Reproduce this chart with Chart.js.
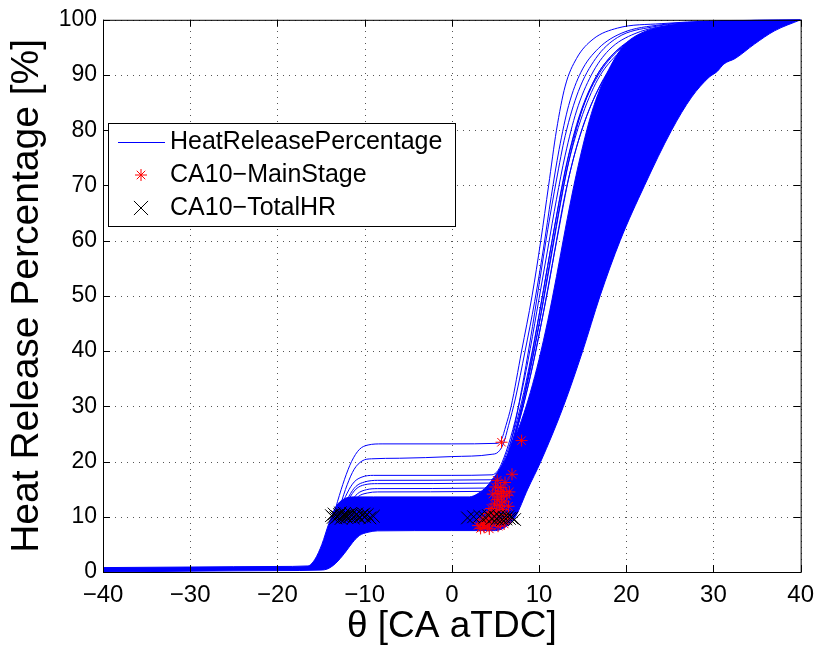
<!DOCTYPE html>
<html>
<head>
<meta charset="utf-8">
<script src="https://cdn.jsdelivr.net/npm/chart.js@4.4.1/dist/chart.umd.min.js"></script>
<style>
  html, body { margin: 0; background: #fff; }
</style>
</head>
<body>
<canvas id="hrChart" width="823" height="645"></canvas>
<script>
// heat release curves, [theta, percent]
const curveS1 = [[-40,0.4],[-28,0.6],[-20,0.7],[-16.3,0.9],[-15.5,1.8],[-14.7,4.2],[-13.9,8.3],[-13.1,12.8],[-12.3,16.8],[-11.5,20],[-10.6,22.2],[-9.6,23],[-8,23.2],[0,23.2],[5.2,23.3],[5.7,24],[6.2,26.5],[6.8,30],[8,40],[9.2,50],[10.2,60],[11.1,70],[12,80],[13,88],[14.3,93],[16.2,96.5],[19,98.5],[24,99.3],[30,99.8],[40,100]];
const curveS2 = [[-40,0.4],[-28,0.6],[-20,0.7],[-16,0.9],[-15.2,1.8],[-14.4,4],[-13.6,7.8],[-12.8,12],[-12,15.8],[-11.2,18.6],[-10.3,20.1],[-9.2,20.5],[-6,20.6],[0,20.9],[4.5,21.3],[5.3,21.7],[5.9,23.2],[6.5,26.5],[7.3,31.5],[8.4,40],[9.5,49],[10.5,58.5],[11.4,68],[12.3,76.5],[13.4,84.5],[14.8,90.5],[16.8,94.8],[19.5,97.6],[24,99.1],[30,99.7],[40,100]];
const curveS3 = [[-40,0.4],[-28,0.6],[-20,0.7],[-16,0.9],[-15.2,1.7],[-14.4,4],[-13.6,7.6],[-12.8,11.3],[-12,14.3],[-11.2,16.3],[-10.3,17.2],[-9,17.5],[0,17.5],[4.6,17.6],[5.3,18.4],[6,20.8],[7,25.8],[8,32.5],[9,40.5],[10,49.5],[11,58.5],[12,67.5],[13,75.5],[14.3,83.5],[16,90],[18,94.5],[21,97.5],[26,99.2],[32,99.8],[40,100]];
const curveS4 = [[-40,0.4],[-28,0.6],[-20,0.7],[-15.8,0.9],[-15,1.7],[-14.2,3.9],[-13.4,7.3],[-12.6,10.8],[-11.8,13.7],[-11,15.5],[-10,16.3],[-8.5,16.6],[4.4,16.7],[5.2,17.7],[6,20.3],[7,24.8],[8,30.8],[9,38.2],[10,46.5],[11,55.5],[12,64.5],[13,72.8],[14.5,82],[16.3,89],[18.5,93.8],[22,97.2],[27,99],[33,99.8],[40,100]];
const curveS5 = [[-40,0.4],[-28,0.6],[-20,0.7],[-15.8,0.9],[-15,1.6],[-14.2,3.7],[-13.4,7],[-12.6,10.4],[-11.8,13.2],[-11,15],[-10,15.8],[-8.5,16],[4.2,16.1],[5,16.8],[6,19.5],[7,24],[8,30],[9,37],[10,45],[11,54],[12,63],[13,71.5],[14.5,80.5],[16.5,88.5],[18.5,93],[22,97],[27,99],[33,99.8],[40,100]];
const curveS6 = [[-40,0.4],[-28,0.6],[-20,0.7],[-15.6,0.9],[-14.8,1.6],[-14,3.6],[-13.2,6.8],[-12.4,10],[-11.6,12.6],[-10.8,14.2],[-9.8,14.9],[-8.5,15.1],[4,15.2],[4.8,15.8],[5.8,18.4],[7,23.5],[8,29],[9,35.5],[10,43],[11,51],[12,60],[13,68.5],[14.5,78],[16.5,86.5],[19,93],[23,97.5],[28,99.3],[40,100]];
const curveS7 = [[-40,0.4],[-28,0.6],[-20,0.7],[-15.5,0.9],[-14.7,1.6],[-13.9,3.5],[-13.1,6.5],[-12.3,9.6],[-11.5,12.2],[-10.7,13.7],[-9.7,14.3],[-8.5,14.5],[3.6,14.6],[4.5,15.3],[5.5,17.5],[6.5,21],[7.5,26],[8.5,32],[9.5,39],[10.5,47],[11.5,55.5],[12.5,64],[13.5,72],[15,80.5],[17,88],[19.5,93.5],[23,97.3],[28,99.2],[40,100]];
const curveC1 = [[-40,0.4],[-28,0.6],[-20,0.7],[-15.8,0.9],[-15,1.8],[-14.2,4.3],[-13.4,7.6],[-12.6,10.3],[-11.8,11.9],[-10.8,12.4],[-9,12.5],[3,12.6],[4,13.5],[5,15.5],[6,19],[7,25],[8,33],[9,42],[10,52],[11,62],[12,71],[13,79],[14.5,87],[16.5,93],[19,96.8],[23,98.7],[30,99.7],[40,100]];
const curveC2 = [[-40,0.4],[-28,0.6],[-20,0.7],[-15.9,0.9],[-15.1,1.8],[-14.3,4.4],[-13.5,8],[-12.7,11],[-11.9,12.5],[-10.9,13],[-9,13],[2.5,13.1],[3.5,13.8],[4.5,15.3],[5.5,17.8],[6.5,21.5],[7.5,26.5],[8.5,33],[9.5,40.5],[10.5,49],[11.5,58],[12.5,67],[13.5,75],[14.8,83],[16.5,89.5],[18.5,93.8],[21,96.8],[25,98.8],[31,99.7],[40,100]];
const curveC3 = [[-40,0.4],[-28,0.6],[-20,0.7],[-15.6,0.9],[-14.8,1.7],[-14,4],[-13.2,7.2],[-12.4,9.8],[-11.6,11],[-10.6,11.4],[-9,11.5],[3.5,11.6],[4.5,12.8],[5.5,15.5],[6.5,20],[7.5,26],[8.5,33.5],[9.5,42],[10.5,51],[11.5,60],[12.5,68.5],[13.5,76],[15,84],[17,90.5],[19.5,95],[23,98],[30,99.6],[40,100]];
// edges of the dense bundle
const coreLeft = [[-40,0.8],[-30,0.9],[-20,1],[-16.5,1.1],[-15.7,2.3],[-14.9,5],[-14.1,8.8],[-13.3,11.8],[-12.4,13.2],[-11.2,13.6],[-9,13.6],[2,13.6],[3,14.2],[4,15.5],[5,17.5],[6,20],[7,23.5],[8,27.5],[9,32.5],[10,38.5],[11,45.5],[12,53.5],[13,62],[14,70],[15,77],[16,83],[17,87.5],[18,91],[19,93.8],[20,95.8],[22,97.8],[25,99],[30,99.7],[40,100]];
const coreRight = [[-40,0],[-30,0.15],[-20,0.25],[-15,0.35],[-14.2,0.6],[-13.3,1.6],[-12.3,3.4],[-11.4,5.3],[-10.6,6.6],[-9.6,7.2],[-8.5,7.45],[0,7.5],[5,7.5],[6,8],[6.8,9],[7.3,10],[8.7,15],[10.2,20],[12.8,30],[15,40],[17,50],[19.3,60],[22.1,70],[25.2,80],[27.5,86],[29.5,89.6],[30.4,90.6],[31.2,92],[32.5,93],[34.7,95.6],[37,98],[40,100]];

// CA10 markers
const caMainX = [3.0, 3.3, 3.5, 3.7, 3.9, 4.1, 4.3, 4.4, 4.6, 4.8, 4.5, 4.9, 5.0, 5.1, 5.2, 5.3, 5.4, 5.5, 5.6, 5.7,
                 5.8, 5.9, 6.0, 6.1, 6.2, 6.3, 6.4, 6.5, 5.2, 4.7, 5.6, 6.0, 4.2, 3.6, 5.0, 6.9, 5.7, 8.0, 6.6, 5.3];
const caMainY = [8.4, 7.9, 8.8, 8.1, 9.3, 8.5, 7.8, 9.8, 8.9, 10.5, 11.5, 12.3, 9.4, 11.0, 13.1, 14.2, 10.2, 12.0, 15.3, 13.6,
                 11.3, 14.6, 12.7, 16.2, 10.4, 13.9, 9.6, 11.9, 16.6, 14.1, 9.0, 8.7, 10.6, 9.6, 15.4, 17.7, 23.5, 23.8, 14.5, 8.3];
const caTotalX = [-13.8, -13.5, -13.3, -13.1, -12.9, -12.7, -12.5, -12.3, -12.1, -11.9, -11.7, -11.5, -11.3, -11.1, -10.9, -10.6, -10.3, -10.0, -9.7, -9.4, -9.0,
                  -13.6, -12.8, -12.2, -11.6, -10.8, -10.1,
                  1.8, 2.5, 3.2, 3.8, 4.2, 4.6, 4.9, 5.2, 5.4, 5.6, 5.8, 6.0, 6.2, 6.4, 6.6, 6.9, 7.2];
const caTotalY = [10.2, 10.5, 9.8, 10.0, 10.4, 9.7, 10.1, 10.6, 9.9, 10.3, 10.0, 10.4, 9.8, 10.2, 10.5, 9.9, 10.3, 10.0, 10.4, 9.8, 10.1,
                  9.9, 10.7, 10.2, 10.6, 10.1, 10.5,
                  9.8, 10.0, 10.1, 9.9, 10.2, 9.7, 10.0, 9.6, 10.1, 9.8, 9.5, 9.9, 9.6, 10.0, 9.7, 9.8, 9.5];

const xTicks = [-40, -30, -20, -10, 0, 10, 20, 30, 40];
const yTicks = [0, 10, 20, 30, 40, 50, 60, 70, 80, 90, 100];

const FONT = "'Liberation Sans', Arial, Helvetica, sans-serif";
const BLUE = '#0000ff';

const toPts = arr => arr.map(p => ({ x: p[0], y: p[1] }));
const zipPts = (xs, ys) => xs.map((x, i) => ({ x: x, y: ys[i] }));

const lineDs = (pts, label) => ({
  label: label,
  data: toPts(pts),
  borderColor: BLUE,
  borderWidth: 1,
  pointRadius: 0,
  fill: false,
  order: 2
});

const datasets = [
  { label: 'CA10\u2212TotalHR', data: zipPts(caTotalX, caTotalY), showLine: false,
    pointStyle: 'crossRot', pointRadius: 9, pointBorderColor: '#000', pointBorderWidth: 1, order: 0 },
  { label: 'CA10\u2212MainStage', data: zipPts(caMainX, caMainY), showLine: false,
    pointStyle: 'star', pointRadius: 6, pointBorderColor: '#ff0000', pointBorderWidth: 1, order: 1 },
  lineDs(coreLeft, 'HeatReleasePercentage'),
  Object.assign(lineDs(coreRight), { fill: '-1', backgroundColor: BLUE }),
  lineDs(curveS1), lineDs(curveS2), lineDs(curveS3), lineDs(curveS4),
  lineDs(curveS5), lineDs(curveS6), lineDs(curveS7),
  lineDs(curveC1), lineDs(curveC2), lineDs(curveC3)
];

// dotted grid, boxed axes with inward ticks, legend inside the plot
const matlabAxes = {
  id: 'matlabAxes',
  beforeDatasetsDraw(chart) {
    const { ctx, chartArea: a, scales: { x, y } } = chart;
    ctx.save();
    ctx.strokeStyle = '#555';
    ctx.lineWidth = 1;
    ctx.setLineDash([1, 5]);
    xTicks.forEach(v => {
      const px = Math.round(x.getPixelForValue(v)) + 0.5;
      ctx.beginPath(); ctx.moveTo(px, a.bottom); ctx.lineTo(px, a.top); ctx.stroke();
    });
    yTicks.forEach(v => {
      const py = Math.round(y.getPixelForValue(v)) + 0.5;
      ctx.beginPath(); ctx.moveTo(a.left, py); ctx.lineTo(a.right, py); ctx.stroke();
    });
    ctx.restore();
  },
  afterDatasetsDraw(chart) {
    const { ctx, chartArea: a, scales: { x, y } } = chart;
    const tl = 7;
    ctx.save();
    ctx.strokeStyle = '#000';
    ctx.lineWidth = 1;
    ctx.strokeRect(a.left + 0.5, a.top + 0.5, a.right - a.left, a.bottom - a.top);
    ctx.beginPath();
    xTicks.forEach(v => {
      const px = Math.round(x.getPixelForValue(v)) + 0.5;
      ctx.moveTo(px, a.bottom); ctx.lineTo(px, a.bottom - tl);
      ctx.moveTo(px, a.top); ctx.lineTo(px, a.top + tl);
    });
    yTicks.forEach(v => {
      const py = Math.round(y.getPixelForValue(v)) + 0.5;
      ctx.moveTo(a.left, py); ctx.lineTo(a.left + tl, py);
      ctx.moveTo(a.right, py); ctx.lineTo(a.right - tl, py);
    });
    ctx.stroke();
    ctx.restore();
  },
  afterDraw(chart) {
    const { ctx } = chart;
    const ds = chart.data.datasets;
    const box = { l: 108, t: 123, w: 347, h: 103 };
    ctx.save();
    ctx.fillStyle = '#fff';
    ctx.fillRect(box.l, box.t, box.w, box.h);
    ctx.strokeStyle = '#000';
    ctx.lineWidth = 1;
    ctx.strokeRect(box.l + 0.5, box.t + 0.5, box.w, box.h);

    ctx.font = '25px ' + FONT;
    ctx.fillStyle = '#000';
    ctx.textBaseline = 'middle';

    // line entry
    ctx.strokeStyle = BLUE;
    ctx.beginPath(); ctx.moveTo(118, 142.5); ctx.lineTo(165, 142.5); ctx.stroke();
    ctx.fillText(ds[2].label, 170, 142);

    ctx.strokeStyle = '#ff0000';
    Chart.helpers.drawPoint(ctx, { pointStyle: 'star', radius: 6, borderWidth: 1 }, 141, 175);
    ctx.fillText(ds[1].label, 170, 175);

    ctx.strokeStyle = '#000';
    Chart.helpers.drawPoint(ctx, { pointStyle: 'crossRot', radius: 10, borderWidth: 1 }, 141, 208);
    ctx.fillText(ds[0].label, 170, 208);
    ctx.restore();
  }
};

new Chart(document.getElementById('hrChart'), {
  type: 'line',
  data: { datasets: datasets },
  options: {
    responsive: false,
    animation: false,
    devicePixelRatio: 1,
    layout: { padding: { top: 19, right: 16, left: 0, bottom: 0 } },
    elements: { line: { cubicInterpolationMode: 'monotone' } },
    plugins: { legend: { display: false }, tooltip: { enabled: false } },
    scales: {
      x: {
        type: 'linear', min: -40, max: 40,
        afterFit: s => { s.height = 73; },
        grid: { display: false, drawTicks: false },
        border: { display: false },
        ticks: {
          stepSize: 10, padding: 9, color: '#000',
          font: { family: FONT, size: 24 },
          callback: v => String(v).replace('-', '\u2212')
        },
        title: {
          display: true, text: '\u03b8 [CA aTDC]', color: '#000',
          font: { family: FONT, size: 37, lineHeight: 1 }, padding: 0
        }
      },
      y: {
        type: 'linear', min: 0, max: 100,
        afterFit: s => { s.width = 103; },
        grid: { display: false, drawTicks: false },
        border: { display: false },
        ticks: { stepSize: 10, padding: 6, color: '#000', font: { family: FONT, size: 23 } },
        title: {
          display: true, text: 'Heat Release Percentage [%]', color: '#000',
          font: { family: FONT, size: 39, lineHeight: 1 }, padding: { top: 8, bottom: 0 }
        }
      }
    }
  },
  plugins: [matlabAxes]
});
</script>
</body>
</html>
